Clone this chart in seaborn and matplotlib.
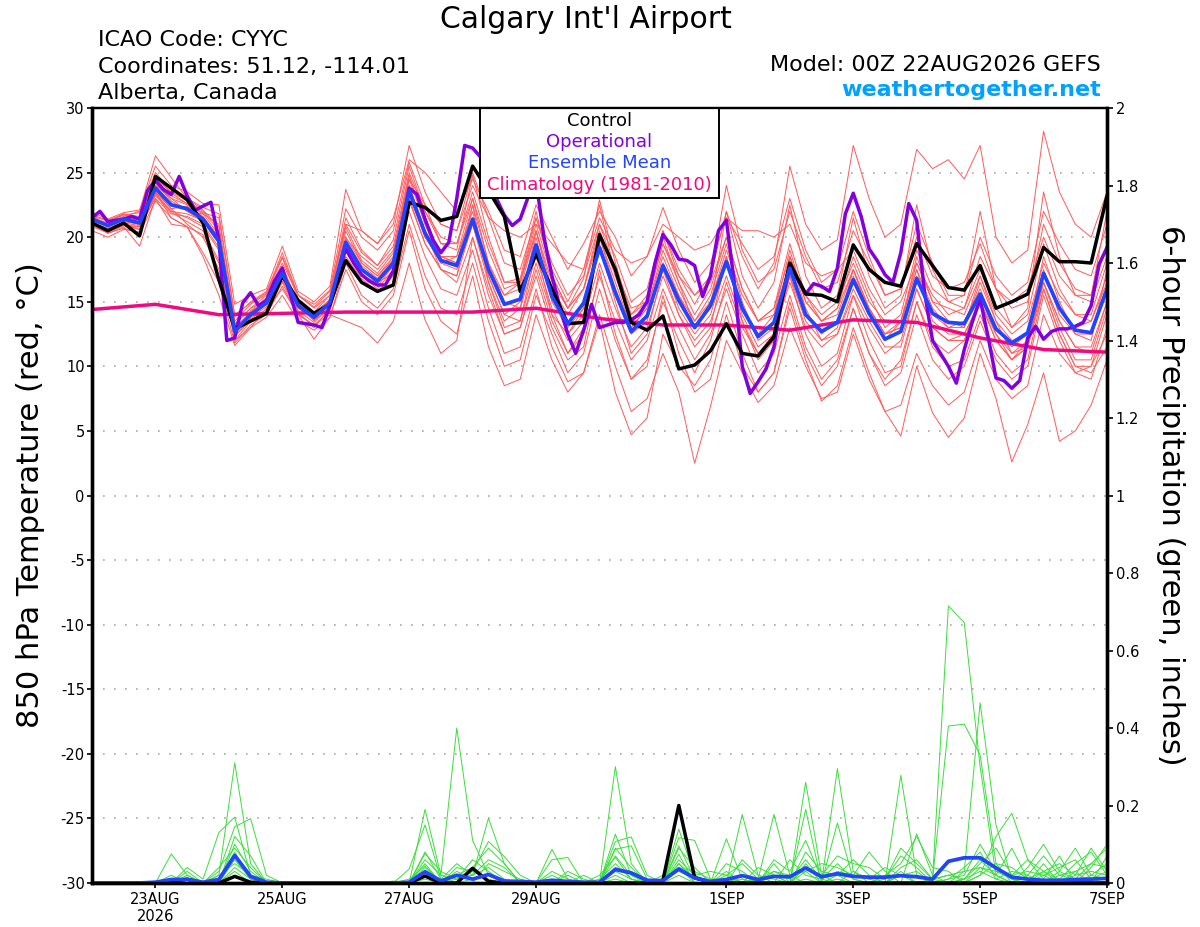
import numpy as np
import pandas as pd
import matplotlib
matplotlib.use('Agg')
import matplotlib.pyplot as plt
from matplotlib.patches import Rectangle
from matplotlib.ticker import FuncFormatter
import seaborn as sns

# GEFS 00Z 22AUG2026, 6-hourly steps (65 values); operational run is 3-hourly (129 values)
control_t = [21.1, 20.5, 21.1, 20.1, 24.7, 23.8, 22.9, 21.1, 16.7, 12.9, 13.5, 14.1, 17.0, 15.1, 14.1, 14.8,
             18.2, 16.5, 15.8, 16.3, 22.7, 22.3, 21.3, 21.6, 25.5, 23.6, 21.6, 15.8, 18.7, 16.0, 13.3, 13.4,
             20.2, 17.5, 13.4, 12.8, 13.9, 9.8, 10.1, 11.2, 13.3, 11.0, 10.8, 12.3, 18.0, 15.6, 15.5, 15.0,
             19.4, 17.5, 16.5, 16.2, 19.5, 17.8, 16.1, 15.9, 17.8, 14.5, 15.0, 15.6, 19.2, 18.1, 18.1, 18.0,
             23.2]
mean_t = [21.4, 20.9, 21.4, 21.1, 23.8, 22.5, 22.2, 21.4, 19.7, 12.7, 14.0, 14.9, 17.2, 14.7, 13.8, 14.9,
          19.6, 17.5, 16.6, 18.0, 23.6, 20.3, 18.2, 17.8, 21.4, 17.5, 14.8, 15.2, 19.4, 15.4, 13.3, 14.9,
          19.2, 15.7, 12.7, 13.9, 17.8, 15.1, 13.0, 14.7, 18.1, 14.5, 12.3, 13.4, 17.6, 14.0, 12.7, 13.4,
          16.7, 14.1, 12.1, 12.7, 16.8, 14.1, 13.4, 13.3, 15.6, 12.9, 11.8, 12.6, 17.2, 14.5, 12.8, 12.6,
          16.0]
oper_t = [21.5, 22.0, 21.2, 21.3, 21.4, 21.6, 21.4, 23.6, 24.4, 23.7, 23.3, 24.7, 23.2, 22.1, 22.4, 22.7,
          19.8, 12.0, 12.2, 14.9, 15.7, 14.7, 15.1, 16.6, 17.6, 15.6, 13.4, 13.3, 13.2, 13.0, 14.7, 17.0,
          19.1, 18.0, 17.1, 16.6, 16.3, 16.3, 17.4, 20.6, 23.8, 23.3, 21.4, 19.8, 18.8, 19.6, 23.0, 27.1,
          26.9, 26.2, 24.8, 23.0, 21.7, 20.9, 21.4, 23.1, 24.3, 20.0, 17.0, 14.6, 12.5, 11.0, 12.8, 14.8,
          13.0, 13.2, 13.4, 13.4, 13.6, 14.0, 15.0, 18.0, 20.2, 19.4, 18.3, 18.2, 17.8, 15.4, 17.0, 20.5,
          21.3, 16.5, 10.0, 7.9, 8.8, 9.8, 11.5, 15.2, 17.6, 16.7, 15.6, 16.4, 16.2, 15.8, 17.6, 21.8,
          23.4, 21.6, 19.1, 18.2, 17.1, 16.5, 18.8, 22.6, 21.3, 15.7, 12.0, 11.0, 10.0, 8.7, 11.3, 13.4,
          15.2, 12.3, 9.1, 8.9, 8.3, 8.9, 12.2, 13.1, 12.1, 12.7, 12.9, 12.9, 13.1, 13.4, 14.7, 17.9,
          19.2]
# daily climatology (1981-2010) at 00Z
clim_t = [14.4, 14.8, 14.0, 14.1, 14.2, 14.2, 14.2, 14.5, 13.7, 13.2, 13.2, 12.8, 13.6, 13.4, 12.2, 11.3, 11.1]

temp_members = [
    [21.8, 21.2, 21.6, 22.0, 26.3, 24.6, 23.0, 22.1, 20.8, 13.5, 14.8, 15.6, 18.4, 15.2, 14.2, 15.5,
     21.5, 19.0, 17.8, 19.8, 25.5, 22.0, 19.5, 19.0, 24.8, 20.0, 16.5, 16.8, 22.0, 17.0, 14.5, 16.8,
     22.9, 18.0, 14.0, 15.5, 20.5, 17.0, 14.8, 17.0, 22.0, 18.5, 16.0, 18.0, 25.5, 21.0, 19.0, 19.8,
     27.1, 23.0, 20.0, 21.0, 26.8, 25.3, 26.0, 24.5, 27.1, 20.0, 18.0, 19.0, 28.2, 23.5, 21.0, 20.0, 23.5],
    [21.0, 20.5, 21.0, 20.6, 23.2, 22.0, 21.5, 20.8, 19.0, 12.0, 13.5, 14.2, 16.5, 14.0, 13.2, 14.3,
     18.5, 16.8, 15.8, 17.0, 22.0, 18.5, 16.0, 15.5, 19.0, 14.5, 11.0, 11.5, 16.0, 11.5, 8.8, 9.5,
     14.0, 10.0, 6.5, 7.5, 11.0, 8.0, 2.5, 6.9, 12.0, 9.5, 7.2, 8.5, 13.0, 10.0, 7.5, 8.0,
     12.5, 9.0, 6.5, 7.0, 11.0, 8.5, 7.0, 8.0, 12.0, 9.0, 7.5, 8.5, 14.0, 11.0, 9.5, 10.0, 12.5],
    [21.2, 20.3, 20.8, 19.3, 23.0, 21.0, 20.8, 18.5, 15.5, 11.6, 13.0, 14.5, 16.0, 14.0, 12.1, 13.8,
     17.5, 15.0, 14.0, 15.5, 20.5, 16.0, 13.5, 12.5, 17.0, 11.5, 8.5, 9.0, 14.0, 10.5, 8.0, 9.5,
     13.5, 8.0, 4.7, 6.0, 12.5, 10.0, 8.5, 10.5, 15.0, 11.0, 8.0, 9.5, 14.5, 10.5, 7.3, 8.5,
     13.0, 9.5, 6.5, 4.6, 10.0, 6.4, 4.5, 6.0, 11.0, 7.5, 2.6, 5.5, 9.5, 4.2, 5.0, 7.0, 10.5],
    [21.9, 21.4, 21.9, 22.1, 25.5, 24.0, 23.5, 22.6, 22.5, 14.8, 15.5, 16.0, 19.3, 15.8, 15.0, 16.2,
     23.7, 20.5, 19.5, 21.0, 27.1, 23.5, 21.0, 20.5, 25.0, 21.5, 18.0, 17.5, 21.5, 18.0, 15.5, 17.0,
     21.0, 18.5, 15.0, 16.0, 20.5, 17.5, 15.5, 17.0, 24.0, 19.0, 16.5, 17.5, 22.0, 18.5, 16.0, 16.5,
     20.5, 18.0, 15.5, 16.0, 20.0, 17.0, 16.0, 16.5, 19.5, 16.0, 14.5, 15.0, 21.0, 18.0, 16.0, 15.5, 19.5],
    [21.3, 20.8, 21.3, 21.2, 24.2, 22.8, 22.0, 21.8, 21.0, 12.5, 14.2, 15.2, 17.8, 14.8, 13.5, 14.6,
     20.5, 18.0, 17.0, 18.5, 24.5, 21.0, 18.0, 18.5, 23.0, 18.0, 15.0, 14.5, 20.5, 15.5, 12.5, 14.0,
     20.0, 16.5, 13.0, 14.5, 19.0, 16.0, 13.5, 15.5, 19.5, 15.0, 12.0, 13.0, 18.5, 14.5, 12.0, 13.0,
     17.5, 14.5, 12.5, 13.0, 18.5, 15.0, 13.5, 13.0, 16.5, 13.5, 12.0, 12.5, 18.5, 15.0, 12.5, 12.0, 17.5],
    [20.5, 20.0, 20.6, 20.4, 23.5, 22.2, 21.0, 20.0, 17.5, 12.3, 13.6, 14.2, 16.8, 14.2, 13.0, 14.5,
     19.0, 17.0, 16.0, 17.5, 23.0, 19.5, 17.5, 17.0, 21.0, 16.5, 13.5, 14.5, 18.5, 14.5, 12.0, 13.5,
     18.0, 14.5, 11.5, 13.0, 17.0, 14.0, 12.0, 13.5, 17.0, 13.5, 11.0, 12.5, 16.5, 13.0, 11.5, 12.5,
     15.5, 13.0, 11.0, 12.0, 16.0, 13.0, 12.0, 12.5, 15.0, 12.0, 10.5, 11.5, 16.5, 13.5, 11.5, 11.5, 15.0],
    [21.6, 21.0, 21.5, 21.5, 24.5, 23.5, 22.8, 22.0, 20.5, 13.2, 14.5, 15.5, 18.0, 15.5, 14.5, 15.5,
     21.0, 20.5, 19.5, 21.5, 26.0, 25.0, 23.5, 22.0, 24.5, 22.0, 19.0, 18.5, 22.5, 20.0, 17.5, 19.5,
     22.0, 20.0, 17.0, 18.5, 22.3, 19.0, 16.5, 18.0, 21.5, 19.5, 17.5, 18.5, 23.0, 19.0, 16.5, 17.5,
     22.0, 18.5, 15.5, 16.0, 21.0, 18.0, 15.5, 15.5, 20.0, 17.0, 15.5, 16.5, 22.0, 19.5, 17.5, 17.0, 21.0],
    [20.8, 20.4, 20.9, 20.8, 23.0, 21.8, 21.6, 21.0, 19.2, 12.8, 13.8, 14.6, 17.0, 14.5, 13.6, 14.4,
     19.5, 17.0, 16.2, 17.8, 23.5, 20.5, 17.5, 17.0, 22.5, 16.5, 13.0, 13.5, 19.0, 14.0, 11.0, 13.0,
     19.5, 15.0, 11.0, 12.5, 17.5, 14.0, 11.5, 13.0, 18.5, 13.5, 10.5, 12.0, 17.0, 12.5, 10.0, 11.0,
     15.5, 12.0, 9.5, 10.0, 15.0, 11.5, 10.0, 10.5, 14.0, 11.0, 9.5, 10.5, 16.0, 12.5, 10.0, 10.0, 14.0],
    [21.5, 21.1, 21.8, 21.6, 24.0, 23.0, 22.5, 21.8, 20.2, 13.0, 14.0, 15.0, 17.5, 14.6, 13.7, 15.0,
     19.8, 17.8, 16.8, 18.2, 24.0, 20.0, 18.5, 18.5, 22.0, 17.0, 14.0, 15.0, 20.0, 15.0, 13.0, 14.5,
     19.0, 15.5, 12.5, 13.5, 18.0, 15.5, 13.5, 15.0, 18.5, 14.5, 12.5, 14.0, 18.0, 14.0, 12.5, 13.5,
     17.0, 14.5, 12.5, 13.0, 17.0, 14.0, 13.0, 13.5, 16.0, 13.0, 11.5, 12.5, 17.5, 14.0, 12.5, 12.5, 16.0],
    [21.0, 20.6, 21.2, 21.0, 23.6, 22.2, 22.4, 21.6, 20.0, 12.6, 14.3, 15.3, 17.4, 14.9, 14.0, 15.2,
     20.0, 18.0, 17.0, 18.3, 24.0, 20.5, 18.5, 18.0, 21.5, 17.5, 15.5, 16.5, 20.5, 16.5, 14.5, 16.0,
     20.0, 16.0, 13.0, 14.5, 18.5, 15.5, 13.0, 15.0, 19.0, 15.5, 13.5, 14.5, 18.5, 15.0, 13.5, 14.0,
     17.5, 14.5, 12.5, 13.5, 18.0, 15.0, 14.5, 14.0, 17.0, 14.0, 12.5, 13.5, 18.0, 15.5, 14.0, 13.5, 17.0],
    [21.2, 20.9, 21.0, 20.8, 23.5, 21.5, 20.8, 18.8, 16.5, 11.8, 13.2, 14.0, 16.2, 14.0, 13.2, 14.0,
     13.5, 13.0, 11.8, 13.5, 18.0, 13.6, 11.0, 12.0, 20.0, 16.0, 12.5, 13.0, 17.5, 13.5, 11.0, 12.5,
     17.0, 13.5, 10.5, 12.0, 16.0, 13.0, 10.5, 12.5, 16.0, 12.5, 9.5, 11.0, 15.5, 11.5, 9.0, 10.5,
     14.5, 11.0, 8.5, 9.5, 14.0, 10.5, 9.0, 10.0, 13.5, 10.5, 9.0, 10.0, 15.5, 12.0, 9.5, 9.0, 13.0],
    [21.7, 21.3, 21.8, 21.3, 24.8, 23.4, 22.6, 21.9, 21.5, 13.8, 15.0, 15.8, 18.5, 15.5, 14.6, 15.8,
     21.0, 18.8, 17.8, 19.3, 25.0, 22.0, 20.0, 19.5, 23.5, 19.5, 16.5, 16.5, 21.0, 17.0, 14.5, 16.0,
     20.5, 17.0, 14.0, 15.0, 19.5, 16.5, 14.0, 16.0, 20.0, 16.0, 13.5, 14.5, 19.5, 15.5, 13.5, 14.5,
     18.5, 15.5, 13.0, 14.0, 19.0, 16.0, 15.0, 14.5, 17.5, 14.5, 13.0, 14.0, 19.5, 16.0, 14.0, 14.0, 18.0],
    [21.4, 21.0, 21.5, 21.3, 24.0, 23.2, 22.6, 21.5, 20.0, 13.3, 14.5, 15.1, 17.6, 15.0, 14.2, 15.1,
     19.9, 18.5, 17.5, 19.0, 24.5, 22.5, 21.0, 20.5, 24.0, 21.5, 20.5, 20.0, 21.0, 19.5, 18.0, 17.5,
     21.5, 19.0, 18.0, 18.5, 21.0, 20.0, 19.0, 19.5, 21.5, 20.5, 20.5, 20.0, 21.0, 18.0, 17.0, 17.5,
     19.0, 16.0, 14.0, 15.0, 18.0, 15.5, 14.0, 14.5, 18.5, 16.0, 15.0, 16.0, 20.0, 17.0, 15.5, 15.0, 18.5],
    [20.9, 20.3, 20.7, 20.3, 22.8, 21.5, 20.8, 20.2, 18.0, 12.0, 13.0, 13.8, 15.5, 13.5, 12.8, 13.8,
     18.0, 15.5, 14.5, 16.0, 21.0, 17.0, 14.5, 14.0, 18.0, 13.5, 10.0, 10.5, 15.5, 12.5, 9.5, 11.0,
     16.0, 12.0, 9.0, 10.5, 15.0, 12.0, 9.5, 12.0, 16.5, 13.0, 11.0, 12.0, 18.5, 15.5, 14.0, 15.0,
     18.0, 15.0, 13.5, 13.5, 17.5, 14.5, 13.0, 13.0, 17.0, 13.5, 11.0, 11.5, 16.0, 12.5, 10.0, 9.5, 11.5],
    [21.6, 21.3, 21.7, 21.9, 25.0, 23.6, 23.0, 22.3, 21.8, 14.0, 14.9, 15.7, 18.8, 15.5, 14.8, 15.9,
     22.2, 20.0, 19.0, 20.5, 25.8, 22.5, 19.5, 19.5, 23.0, 19.0, 16.0, 16.5, 21.5, 17.5, 15.0, 17.5,
     22.5, 17.0, 13.5, 15.0, 20.0, 16.5, 13.0, 14.5, 22.0, 17.0, 14.5, 16.5, 22.5, 17.0, 14.5, 15.5,
     21.5, 17.0, 14.5, 15.5, 22.5, 17.5, 15.0, 15.5, 22.0, 16.0, 13.0, 14.5, 23.5, 18.5, 15.5, 15.5, 22.0],
    [21.1, 20.7, 21.1, 20.9, 23.3, 21.9, 21.2, 20.5, 18.2, 12.4, 13.7, 14.4, 16.6, 14.3, 13.4, 14.6,
     19.2, 17.0, 16.5, 17.2, 22.8, 19.5, 17.5, 16.5, 20.0, 15.5, 12.5, 13.0, 17.0, 13.0, 10.5, 11.5,
     17.5, 12.5, 9.0, 10.0, 15.5, 11.0, 8.0, 9.0, 14.0, 10.0, 8.0, 9.5, 15.0, 11.0, 8.5, 10.0,
     14.5, 11.0, 9.0, 10.5, 15.0, 12.0, 11.0, 12.0, 15.5, 12.5, 10.5, 12.0, 16.5, 13.0, 10.5, 10.5, 14.5],
    [21.3, 20.9, 21.4, 21.4, 24.3, 23.0, 22.0, 21.2, 19.5, 13.0, 14.2, 15.0, 17.6, 14.8, 13.9, 15.2,
     20.8, 18.2, 17.2, 18.8, 24.8, 21.0, 18.5, 18.0, 22.5, 18.0, 15.5, 16.0, 20.5, 16.0, 14.0, 16.0,
     21.0, 17.5, 14.5, 15.0, 19.5, 17.0, 15.5, 16.5, 20.0, 16.0, 13.5, 14.0, 19.0, 15.0, 13.5, 14.5,
     17.5, 14.0, 12.0, 13.5, 17.5, 13.5, 12.5, 12.5, 15.0, 12.0, 10.5, 11.5, 17.0, 14.5, 13.0, 13.5, 16.5],
    [21.0, 20.6, 20.9, 20.6, 23.4, 22.0, 21.8, 21.3, 19.8, 12.6, 13.9, 14.8, 17.0, 14.6, 13.6, 14.8,
     19.5, 17.4, 16.5, 17.8, 23.2, 20.0, 18.0, 17.5, 21.0, 17.0, 14.0, 13.5, 18.0, 14.0, 12.5, 14.5,
     19.0, 15.5, 12.5, 14.0, 18.0, 14.5, 12.5, 14.0, 18.0, 14.0, 11.5, 12.5, 17.0, 13.5, 12.0, 12.5,
     16.0, 13.5, 11.5, 11.5, 16.0, 13.0, 12.0, 12.0, 15.0, 12.5, 11.0, 12.0, 16.5, 13.5, 11.5, 11.0, 15.0],
]

# 6-hour precipitation, inches
control_p = [0, 0, 0, 0, 0, 0.003, 0.01, 0, 0, 0.017, 0.002, 0, 0, 0, 0, 0,
             0, 0, 0, 0, 0, 0.018, 0, 0, 0.038, 0.004, 0, 0, 0, 0, 0, 0,
             0, 0, 0, 0, 0.007, 0.20, 0.014, 0.002, 0, 0, 0, 0, 0, 0, 0, 0,
             0, 0, 0, 0, 0, 0, 0, 0, 0, 0, 0, 0, 0, 0, 0, 0, 0]
mean_p = [0, 0, 0, 0, 0.002, 0.009, 0.009, 0.002, 0.009, 0.071, 0.017, 0.002, 0, 0, 0, 0,
          0, 0, 0, 0, 0.002, 0.029, 0.005, 0.02, 0.01, 0.022, 0.005, 0.004, 0.002, 0.007, 0.004, 0.002,
          0.002, 0.035, 0.026, 0.007, 0.006, 0.036, 0.013, 0.004, 0.009, 0.019, 0.009, 0.017, 0.016, 0.039, 0.016, 0.024,
          0.017, 0.015, 0.015, 0.019, 0.016, 0.010, 0.056, 0.065, 0.065, 0.039, 0.015, 0.010, 0.007, 0.007, 0.009, 0.010,
          0.012]
precip_members = [
    [0, 0, 0, 0, 0, 0.075, 0.02, 0, 0.02, 0.31, 0.05, 0, 0, 0, 0, 0,
     0, 0, 0, 0, 0, 0.19, 0.02, 0.40, 0.11, 0.02, 0, 0, 0, 0, 0, 0,
     0, 0.30, 0.05, 0, 0, 0.05, 0.01, 0, 0, 0.02, 0, 0.05, 0, 0.26, 0.02, 0,
     0, 0, 0, 0.03, 0, 0.01, 0.715, 0.672, 0.30, 0.02, 0, 0, 0.03, 0, 0, 0.02, 0.01],
    [0, 0, 0, 0, 0, 0, 0.04, 0.01, 0.13, 0.17, 0.02, 0, 0, 0, 0, 0,
     0, 0, 0, 0, 0.036, 0.15, 0.01, 0.05, 0.02, 0.167, 0.05, 0, 0, 0.087, 0.01, 0,
     0, 0.126, 0.02, 0, 0, 0.139, 0.02, 0, 0.114, 0.01, 0, 0, 0, 0.19, 0, 0.02,
     0, 0, 0, 0.278, 0.02, 0.01, 0.405, 0.41, 0.33, 0.05, 0, 0.02, 0, 0, 0.03, 0, 0],
    [0, 0, 0, 0, 0, 0.02, 0, 0, 0.03, 0.145, 0.166, 0.02, 0, 0, 0, 0,
     0, 0, 0, 0, 0, 0.076, 0.03, 0.01, 0.03, 0.107, 0.068, 0.02, 0, 0.06, 0.066, 0,
     0, 0.107, 0.119, 0.02, 0, 0.117, 0.11, 0.01, 0, 0.177, 0.02, 0, 0, 0.05, 0, 0.295,
     0.03, 0, 0, 0, 0.127, 0.02, 0, 0.03, 0.465, 0.15, 0.01, 0, 0.05, 0, 0.02, 0.09, 0.03],
    [0, 0, 0, 0, 0, 0, 0.03, 0, 0, 0.12, 0.07, 0, 0, 0, 0, 0,
     0, 0, 0, 0, 0, 0.05, 0, 0.02, 0.04, 0.09, 0.05, 0, 0, 0, 0, 0.02,
     0, 0.087, 0.096, 0.01, 0, 0.096, 0.01, 0, 0.03, 0, 0.01, 0.177, 0.02, 0, 0, 0.155,
     0.01, 0, 0.02, 0.05, 0.12, 0.04, 0.03, 0, 0.02, 0.12, 0.18, 0.06, 0.01, 0.07, 0, 0.04, 0.1],
    [0, 0, 0, 0, 0, 0.01, 0, 0, 0, 0.10, 0.03, 0, 0, 0, 0, 0,
     0, 0, 0, 0, 0.01, 0.044, 0, 0.03, 0.01, 0.02, 0, 0, 0, 0, 0, 0,
     0.02, 0.066, 0.01, 0, 0, 0.074, 0, 0, 0.01, 0, 0, 0.03, 0.02, 0.03, 0.05, 0.04,
     0.02, 0.08, 0.03, 0, 0, 0.01, 0.02, 0.03, 0.04, 0.02, 0, 0.04, 0.1, 0.03, 0.09, 0.02, 0.05],
    [0, 0, 0, 0, 0, 0, 0, 0, 0.01, 0.08, 0.01, 0, 0, 0, 0, 0,
     0, 0, 0, 0.005, 0, 0.02, 0, 0.04, 0.03, 0.01, 0, 0, 0, 0, 0.03, 0.01,
     0, 0.02, 0, 0, 0.01, 0.04, 0, 0, 0.05, 0.03, 0, 0, 0.06, 0.02, 0.01, 0,
     0.03, 0.01, 0.04, 0.02, 0, 0, 0.01, 0.02, 0.1, 0.03, 0.02, 0.06, 0.03, 0.01, 0.05, 0.08, 0.02],
    [0, 0, 0, 0, 0, 0, 0, 0, 0, 0.06, 0.01, 0, 0, 0, 0, 0,
     0, 0, 0, 0, 0, 0.03, 0.01, 0, 0, 0.05, 0.03, 0.01, 0, 0.02, 0, 0,
     0, 0.04, 0.03, 0, 0, 0.06, 0.02, 0.03, 0.02, 0, 0.04, 0.02, 0, 0.08, 0.03, 0.02,
     0.06, 0.02, 0, 0.02, 0.03, 0, 0, 0.01, 0.06, 0.02, 0.09, 0.01, 0, 0.03, 0.01, 0, 0.07],
    [0, 0, 0, 0, 0, 0, 0, 0, 0, 0.03, 0, 0, 0, 0, 0, 0,
     0, 0, 0, 0, 0, 0.01, 0, 0, 0, 0, 0, 0, 0, 0, 0, 0,
     0, 0.01, 0, 0, 0, 0.02, 0, 0, 0, 0, 0, 0, 0, 0.01, 0, 0,
     0, 0, 0, 0, 0, 0, 0, 0.01, 0.03, 0.01, 0, 0, 0.02, 0, 0, 0.01, 0],
    [0, 0, 0, 0, 0, 0.01, 0.01, 0, 0.02, 0.05, 0.02, 0.01, 0, 0, 0, 0,
     0, 0, 0, 0, 0, 0.06, 0.02, 0.01, 0.06, 0.03, 0, 0, 0, 0.01, 0, 0,
     0.01, 0.05, 0.01, 0, 0.02, 0.03, 0.01, 0, 0, 0.06, 0.02, 0.01, 0, 0.04, 0.02, 0.07,
     0.05, 0.04, 0.01, 0.09, 0.05, 0.01, 0, 0, 0.02, 0.05, 0.04, 0.01, 0.03, 0.05, 0.02, 0.03, 0.02],
    [0, 0, 0, 0, 0, 0, 0.02, 0, 0.04, 0.09, 0.04, 0, 0, 0, 0, 0,
     0, 0, 0, 0, 0, 0.08, 0.01, 0.02, 0.02, 0.06, 0.04, 0, 0, 0, 0.02, 0,
     0, 0.09, 0.04, 0, 0, 0.04, 0.03, 0.01, 0.01, 0.02, 0, 0.06, 0.03, 0.11, 0.01, 0.05,
     0.01, 0, 0.01, 0.07, 0.04, 0, 0.01, 0.04, 0.08, 0.01, 0.03, 0.02, 0.07, 0.02, 0.01, 0.05, 0.04],
    [0, 0, 0, 0, 0, 0, 0.01, 0, 0.01, 0.07, 0.02, 0, 0, 0, 0, 0,
     0, 0, 0, 0, 0, 0.04, 0, 0.01, 0.02, 0.04, 0.01, 0, 0, 0.03, 0.01, 0,
     0, 0.07, 0.02, 0, 0, 0.09, 0.04, 0, 0.02, 0.05, 0.01, 0.03, 0.01, 0.06, 0.01, 0.03,
     0.02, 0.01, 0, 0.04, 0.06, 0.01, 0.02, 0.01, 0.05, 0.09, 0.02, 0.03, 0.02, 0.04, 0.06, 0.01, 0.03],
    [0, 0, 0, 0, 0, 0.005, 0, 0, 0, 0.04, 0.01, 0, 0, 0, 0, 0,
     0, 0, 0, 0, 0, 0.02, 0, 0, 0.01, 0.02, 0, 0, 0, 0, 0, 0,
     0, 0.03, 0.01, 0, 0, 0.05, 0.01, 0, 0, 0.01, 0, 0.02, 0, 0.03, 0, 0.01,
     0, 0, 0, 0.02, 0.02, 0, 0, 0, 0.04, 0.03, 0.01, 0.01, 0, 0.02, 0.03, 0.05, 0.09],
]

tick_days = [1, 3, 5, 7, 10, 12, 14, 16]
tick_labels = ['23AUG\n2026', '25AUG', '27AUG', '29AUG', '1SEP', '3SEP', '5SEP', '7SEP']
legend_labels = ['Control', 'Operational', 'Ensemble Mean', 'Climatology (1981-2010)']

RED = '#ff5a5a'
GREEN = '#3ade3a'
PURPLE = '#8200e0'
BLUE = '#2244ff'
PINK = '#f00a82'

days6 = np.arange(len(control_t)) * 0.25
days3 = np.arange(len(oper_t)) * 0.125
days_clim = np.arange(len(clim_t)) * 1.0

red_df = pd.DataFrame({
    'day': np.tile(days6, len(temp_members)),
    'temp': np.concatenate(temp_members),
    'member': np.repeat(np.arange(len(temp_members)), len(days6)),
})
green_df = pd.DataFrame({
    'day': np.tile(days6, len(precip_members)),
    'precip': np.concatenate(precip_members),
    'member': np.repeat(np.arange(len(precip_members)), len(days6)),
})

sns.set_style('white')
plt.rcParams['font.family'] = ['DejaVu Sans']
plt.rcParams.update({'text.color': 'black', 'axes.labelcolor': 'black',
                     'xtick.color': 'black', 'ytick.color': 'black'})

fig = plt.figure(figsize=(12, 9.27), dpi=100)
fig.patch.set_facecolor('white')
ax = fig.add_axes([92 / 1200, 44 / 927, 1015 / 1200, 775 / 927])
ax2 = ax.twinx()

# temperature
sns.lineplot(data=red_df, x='day', y='temp', units='member', estimator=None,
             color=RED, lw=0.7, ax=ax, legend=False)
sns.lineplot(x=days_clim, y=clim_t, color=PINK, lw=2.5, ax=ax)
sns.lineplot(x=days3, y=oper_t, color=PURPLE, lw=2.5, ax=ax)
sns.lineplot(x=days6, y=control_t, color='black', lw=2.5, ax=ax)
sns.lineplot(x=days6, y=mean_t, color=BLUE, lw=2.7, ax=ax)

# precipitation
sns.lineplot(data=green_df, x='day', y='precip', units='member', estimator=None,
             color=GREEN, lw=0.7, ax=ax2, legend=False)
sns.lineplot(x=days6, y=control_p, color='black', lw=2.5, ax=ax2)
sns.lineplot(x=days6, y=mean_p, color=BLUE, lw=2.7, ax=ax2)

ax.set_xlim(0, 16)
ax.set_ylim(-30, 30)
ax2.set_ylim(0, 2)
ax.set_xlabel('')
ax.set_ylabel('')
ax2.set_xlabel('')
ax2.set_ylabel('')

ax.set_xticks(tick_days)
ax.set_xticklabels(tick_labels)
ax.set_yticks(np.arange(-30, 31, 5))
ax.yaxis.set_major_formatter(FuncFormatter(lambda v, p: f'{int(round(v))}'))
ax2.set_yticks(np.round(np.arange(0, 2.01, 0.2), 1))
ax2.yaxis.set_major_formatter(FuncFormatter(lambda v, p: f'{round(v, 1):g}'))

ax.yaxis.grid(True, color='#aaaaaa', lw=1.2, ls=(0, (1, 5.6)))
ax.xaxis.grid(False)
ax2.grid(False)

ax.tick_params(axis='y', direction='out', length=3.5, width=1.2, labelsize=10.5, pad=1.8, left=True)
ax.tick_params(axis='x', direction='out', length=3.5, width=1.2, labelsize=10.5, pad=3, bottom=True)
ax2.tick_params(axis='y', direction='out', length=4, width=1.2, labelsize=10.5, pad=2.4, right=True)

for a in (ax, ax2):
    for side in ('left', 'right', 'bottom'):
        a.spines[side].set_linewidth(2.4)
        a.spines[side].set_color('black')
    a.spines['top'].set_linewidth(1.6)
    a.spines['top'].set_color('black')

# legend box
x0 = (480 - 92) / 1015
x1 = (719 - 92) / 1015
y0 = (883 - 198) / 775
ax.add_patch(Rectangle((x0, y0), x1 - x0, 1 - y0, transform=ax.transAxes,
                       facecolor='white', edgecolor='black', lw=1.4, zorder=10))
for lab, col, py in zip(legend_labels, ['black', PURPLE, BLUE, PINK], [121, 142, 163, 185]):
    ax.text(0.5, (883 - py) / 775, lab, color=col, fontsize=13, ha='center', va='center',
            transform=ax.transAxes, zorder=11)

# header texts
def fx(px):
    return px / 1200


def fy(py):
    return 1 - py / 927


fig.text(fx(586), fy(28), "Calgary Int'l Airport", fontsize=21.5, ha='center', va='baseline')
fig.text(fx(98), fy(46), 'ICAO Code: CYYC', fontsize=16, ha='left', va='baseline')
fig.text(fx(98), fy(73), 'Coordinates: 51.12, -114.01', fontsize=16, ha='left', va='baseline')
fig.text(fx(98), fy(99), 'Alberta, Canada', fontsize=16, ha='left', va='baseline')
fig.text(fx(1101), fy(71), 'Model: 00Z 22AUG2026 GEFS', fontsize=16, ha='right', va='baseline')
fig.text(fx(1101), fy(96), 'weathertogether.net', fontsize=16, fontweight='bold',
         color='#00a2ff', ha='right', va='baseline')

fig.text(fx(31), fy(495.5), '850 hPa Temperature (red, °C)', fontsize=22, rotation=90,
         ha='center', va='center')
fig.text(fx(1171), fy(495.5), '6-hour Precipitation (green, inches)', fontsize=22, rotation=270,
         ha='center', va='center')

fig.savefig('out.png', dpi=100, facecolor='white')
